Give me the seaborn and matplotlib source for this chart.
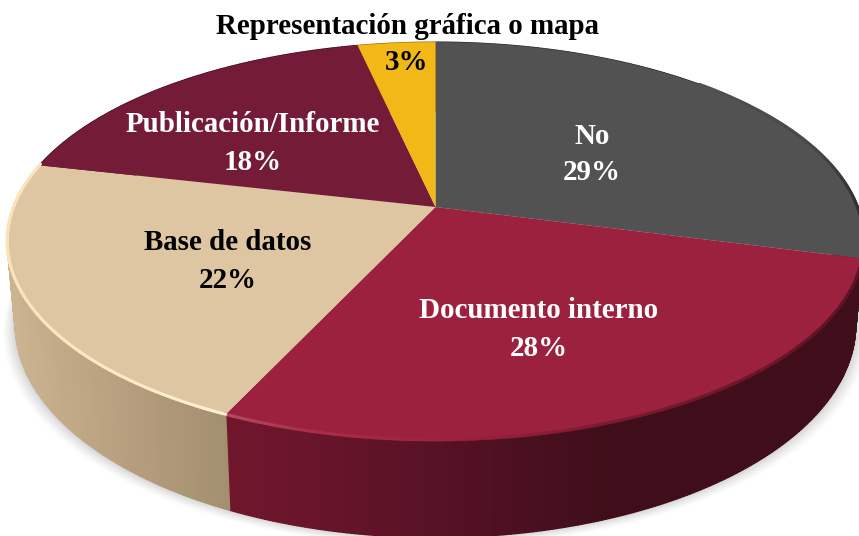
import numpy as np
import matplotlib
matplotlib.use("Agg")
import matplotlib.pyplot as plt
from matplotlib.collections import PolyCollection, LineCollection
from matplotlib.colors import to_rgb
from matplotlib.transforms import Transform
import seaborn as sns

categories = ["No", "Documento interno", "Base de datos", "Publicación/Informe", "Representación gráfica o mapa"]
values = [29.1, 27.8, 21.7, 17.95, 3.45]
value_labels = ["29%", "28%", "22%", "18%", "3%"]
top_colors = ["#525252", "#9c213e", "#dfc6a2", "#741c37", "#f2b817"]
text_colors = ["white", "white", "black", "white", "black"]

# layout (pixels in an 859x536 canvas)
W, H = 859, 536
CX, CY, RX, RY, K = 435.5, 207.0, 422.0, 193.0, 0.171
DEPTH, RX_LOW = 81.0, 414.0
name_xy = [(592, 137), (539, 311), (228, 243), (253, 125), (407, 27)]
pct_xy = [(592, 173), (539, 348), (228, 280), (253, 162), (407, 62)]
FONT = "Liberation Serif"
FS = 20.9

sns.set_theme(style="white")
plt.rcParams["font.family"] = [FONT, "DejaVu Serif"]


class Tilt(Transform):
    """Perspective view of the unit disc."""
    input_dims = output_dims = 2
    is_separable = False
    has_inverse = False

    def transform_non_affine(self, pts):
        pts = np.asarray(pts, float)
        w = 1 + K * pts[:, 1]
        return np.column_stack([CX + RX * pts[:, 0] / w, CY - RY * pts[:, 1] / w])


fig = plt.figure(figsize=(W / 100, H / 100), dpi=100)
ax = fig.add_axes([0, 0, 1, 1])
wedges, _ = ax.pie(values, colors=sns.color_palette(top_colors), startangle=90,
                   counterclock=False, radius=1, frame=False)
ax.set_aspect("auto")
ax.set_xlim(0, W)
ax.set_ylim(H, 0)
ax.axis("off")
tilt = Tilt()
for w in wedges:
    w.set_transform(tilt + ax.transData)
    w.set_zorder(5)
    w.set_linewidth(0)


def rim(theta, low=False):
    """theta: clockwise from top, degrees."""
    t = np.radians(theta)
    x, y = np.sin(t), np.cos(t)
    w = 1 + K * y
    if low:
        return CX + RX_LOW * x / w, CY - RY * y / w + DEPTH / w
    return CX + RX * x / w, CY - RY * y / w


edges = np.concatenate([[0], np.cumsum(values)]) * 3.6

# soft shadow below the disc
all_t = np.linspace(0, 360, 361)
bx, by = rim(all_t, low=True)
for grow, a in zip([12, 10, 8, 6, 4, 2], [0.025, 0.03, 0.035, 0.04, 0.05, 0.06]):
    ax.fill(CX + (bx - CX) * (1 + grow / 420), by + grow * 0.7, color="#555555", alpha=a, lw=0, zorder=1)

# side wall: horizontal shading by screen position
side_maps = {
    1: ([224, 300, 420, 520, 610, 859], ["#70162d", "#6a152b", "#5a1226", "#4b1020", "#400e1a", "#3f0e1a"]),
    2: ([10, 60, 130, 180, 224], ["#ccb391", "#c2a988", "#b69d7d", "#ab9676", "#a3906f"]),
    0: ([436, 859], ["#333333", "#2a2a2a"]),
    3: ([0, 436], ["#4a1223", "#4a1223"]),
    4: ([0, 859], ["#a07a10", "#a07a10"]),
}
polys, cols = [], []
for i in range(len(values)):
    ts = np.arange(edges[i], edges[i + 1] + 0.5, 0.5)
    ts[-1] = edges[i + 1]
    xt, yt = rim(ts)
    xb, yb = rim(ts, low=True)
    stops, cs = side_maps[i]
    rgb = np.array([to_rgb(c) for c in cs])
    for j in range(len(ts) - 1):
        polys.append([(xt[j], yt[j]), (xt[j + 1], yt[j + 1]), (xb[j + 1], yb[j + 1]), (xb[j], yb[j])])
        xm = (xt[j] + xt[j + 1]) / 2
        cols.append([np.interp(xm, stops, rgb[:, c]) for c in range(3)])
ax.add_collection(PolyCollection(polys, facecolors=cols, edgecolors=cols, linewidths=1.0, zorder=2))

# bevel highlight along the front rim
segs, scol = [], []
bevel = {
    0: ([700, 820, 859], ["#525252", "#474747", "#303030"]),
    1: ([224, 300, 450, 600, 760, 859], ["#b84a63", "#a8304b", "#9c213e", "#7d1a32", "#6a162a", "#5a1226"]),
    2: ([8, 224], ["#fbe2bb", "#fff0d0"]),
}
for i, (stops, cs) in bevel.items():
    ts = np.arange(edges[i], edges[i + 1] + 0.5, 0.5)
    xt, yt = rim(ts)
    rgb = np.array([to_rgb(c) for c in cs])
    for j in range(len(ts) - 1):
        xm = (xt[j] + xt[j + 1]) / 2
        if i == 0 and xm < 700:
            continue
        segs.append([(xt[j], yt[j]), (xt[j + 1], yt[j + 1])])
        scol.append([np.interp(xm, stops, rgb[:, c]) for c in range(3)])
ax.add_collection(LineCollection(segs, colors=scol, linewidths=2.2, zorder=6, capstyle="round"))

for name, pct, c, nxy, pxy in zip(categories, value_labels, text_colors, name_xy, pct_xy):
    ax.text(*nxy, name, color=c, fontsize=FS, fontweight="bold", ha="center", va="center", zorder=8)
    ax.text(*pxy, pct, color=c, fontsize=FS, fontweight="bold", ha="center", va="center", zorder=8)

fig.savefig("out.png", dpi=100, facecolor="white")
